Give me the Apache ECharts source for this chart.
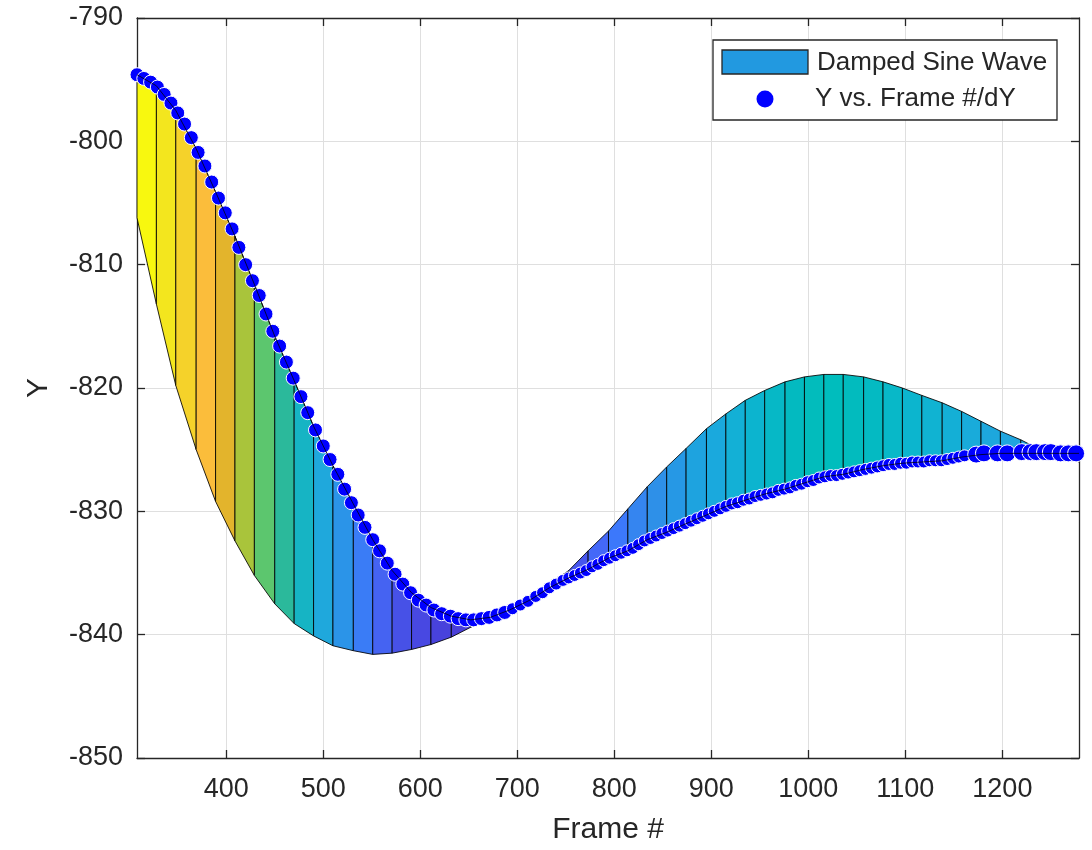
<!DOCTYPE html>
<html><head><meta charset="utf-8">
<script src="https://cdn.jsdelivr.net/npm/echarts@6/dist/echarts.min.js"></script>
<style>html,body{margin:0;padding:0;background:#fff}#c{width:1092px;height:850px}</style>
</head><body><div id="c"></div>
<script>
// Patch vertices (frame #) and the two bounding curves
const patchFrames = [308,328,348,369,389,409,429,450,470,490,510,531,551,571,591,611,632,652,672,692,713,733,753,773,794,814,834,854,874,895,915,935,955,976,996,1016,1036,1057,1077,1097,1117,1138,1158,1178,1198,1219,1239,1259,1279];
const curveY = [-794.6,-795.5,-797.5,-800.6,-804.1,-807.7,-811.6,-815.8,-819.4,-823.1,-826.3,-829.4,-832.3,-834.8,-836.6,-837.8,-838.5,-838.8,-838.6,-838.0,-837.2,-836.2,-835.4,-834.7,-833.8,-833.2,-832.3,-831.7,-831.0,-830.3,-829.6,-829.1,-828.6,-828.2,-827.7,-827.2,-827.0,-826.6,-826.3,-826.1,-826.0,-825.9,-825.6,-825.4,-825.3,-825.3,-825.3,-825.3,-825.3];
const sineY = [-806.2,-813.2,-819.8,-825.0,-829.2,-832.4,-835.2,-837.5,-839.1,-840.1,-840.9,-841.3,-841.6,-841.5,-841.2,-840.8,-840.2,-839.4,-838.6,-837.7,-836.8,-835.9,-834.8,-833.2,-831.6,-829.8,-828.0,-826.4,-824.9,-823.3,-822.1,-821.0,-820.2,-819.5,-819.1,-818.9,-818.9,-819.1,-819.5,-820.0,-820.6,-821.2,-821.9,-822.7,-823.5,-824.2,-825.0,-825.5,-826.0];
// Scatter points: Y vs. Frame #/dY
const dotFrames = [308,315,322,329,336,343,350,357,364,371,378,385,392,399,406,413,420,427,434,441,448,455,462,469,477,484,492,500,507,515,522,529,536,543,551,558,566,574,582,590,598,606,614,622,631,639,647,655,663,671,679,687,695,703,711,719,726,733,740,747,753,759,765,771,777,783,789,795,801,807,813,819,825,831,837,843,849,855,861,867,873,879,885,891,897,903,909,915,921,927,933,939,945,951,957,963,969,975,981,987,993,999,1005,1011,1017,1023,1029,1035,1041,1047,1053,1059,1065,1071,1077,1083,1089,1095,1101,1107,1113,1119,1125,1131,1137,1143,1149,1155,1161,1173,1181,1195,1205,1220,1229,1235,1244,1250,1260,1268,1276];
const dotY = [-794.6,-794.9,-795.2,-795.6,-796.2,-796.9,-797.7,-798.6,-799.7,-800.9,-802.0,-803.3,-804.6,-805.8,-807.1,-808.6,-810.0,-811.3,-812.5,-814.0,-815.4,-816.6,-817.9,-819.2,-820.7,-822.0,-823.4,-824.7,-825.8,-827.0,-828.2,-829.3,-830.3,-831.3,-832.3,-833.2,-834.2,-835.1,-835.9,-836.6,-837.2,-837.6,-838.0,-838.3,-838.5,-838.7,-838.8,-838.8,-838.7,-838.6,-838.4,-838.2,-837.9,-837.6,-837.3,-836.9,-836.6,-836.2,-835.9,-835.6,-835.4,-835.2,-835.0,-834.8,-834.5,-834.3,-834.0,-833.8,-833.6,-833.4,-833.2,-833.0,-832.7,-832.4,-832.2,-832.0,-831.8,-831.6,-831.4,-831.2,-831.0,-830.8,-830.6,-830.4,-830.2,-830.0,-829.8,-829.6,-829.4,-829.3,-829.1,-829.0,-828.8,-828.7,-828.6,-828.5,-828.3,-828.2,-828.1,-827.9,-827.8,-827.6,-827.5,-827.3,-827.2,-827.1,-827.1,-827.0,-826.9,-826.8,-826.7,-826.6,-826.5,-826.4,-826.3,-826.2,-826.2,-826.1,-826.1,-826.0,-826.0,-826.0,-825.9,-825.9,-825.9,-825.8,-825.7,-825.6,-825.5,-825.4,-825.3,-825.3,-825.3,-825.2,-825.2,-825.2,-825.2,-825.2,-825.3,-825.3,-825.3];
const xTicks = [400,500,600,700,800,900,1000,1100,1200];
const xMin = 308, xMax = 1279, yMin = -850, yMax = -790, yStep = 10;
const seriesNames = ['Damped Sine Wave', 'Y vs. Frame #/dY'];
const xName = 'Frame #', yName = 'Y';

// Face colours of the patch segments (style)
const segColors = ['#f8f80f','#f3e61e','#f5d22a','#fbbd3b','#e3b42c','#a9c43b','#5cc66e','#2bb99b','#16b4c4','#1fa8dc','#2b94e8','#3a7cf6','#4563f2','#4751e7','#4848e2','#4842dc','#4a3fd8','#4a40d8','#4a42dc','#4a44de','#4a46e0','#4a48e4','#4756ee','#4468f8','#3c78fb','#3585f0','#2e90e8','#2698e5','#1ea3df','#1aa9dd','#13b0d6','#0cb4cf','#06b8c6','#03bac0','#02bcbc','#00bdbd','#02bbbe','#04bac2','#08b8c8','#0cb5ce','#10b3d2','#14afd6','#19abda','#1da7dd','#20a5df','#22a2e0','#2a98e4','#2e90e8'];

const segData = [];
for (let k = 0; k < patchFrames.length - 1; k++) {
  segData.push([patchFrames[k], patchFrames[k+1], curveY[k], curveY[k+1], sineY[k], sineY[k+1]]);
}
const dots = dotFrames.map((f, i) => [f, dotY[i]]);
const curveLine = patchFrames.map((f, i) => [f, curveY[i]]);

const FONT = '"Liberation Sans", Arial, Helvetica, sans-serif';
const TXT = '#262626';
const chart = echarts.init(document.getElementById('c'), null, {renderer: 'canvas'});
const axisCommon = {
  axisLine: {show: true, onZero: false, lineStyle: {color: TXT, width: 1.3}},
  axisTick: {show: true, inside: true, length: 8, lineStyle: {color: TXT, width: 1.3}},
};
const tickFmt = v => String(v);
chart.setOption({
  animation: false,
  backgroundColor: '#fff',
  grid: {left: 137, right: 13, top: 18, bottom: 90, containLabel: false},
  xAxis: [{
    type: 'value', min: xMin, max: xMax, position: 'bottom',
    name: xName, nameLocation: 'middle', nameGap: 57,
    nameTextStyle: {color: TXT, fontSize: 30, fontFamily: FONT},
    ...axisCommon,
    axisTick: {show: true, inside: true, length: 8, customValues: xTicks, lineStyle: {color: TXT, width: 1.3}},
    axisLabel: {customValues: xTicks, formatter: tickFmt, color: TXT, fontSize: 27, fontFamily: FONT, margin: 18},
    splitLine: {show: true, lineStyle: {color: '#dfdfdf', width: 1}}
  }, {
    type: 'value', min: xMin, max: xMax, position: 'top',
    ...axisCommon,
    axisTick: {show: true, inside: true, length: 8, customValues: xTicks, lineStyle: {color: TXT, width: 1.3}},
    axisLabel: {show: false}, splitLine: {show: false}
  }],
  yAxis: [{
    type: 'value', min: yMin, max: yMax, interval: yStep, position: 'left',
    name: yName, nameLocation: 'middle', nameGap: 83, nameRotate: 90,
    nameTextStyle: {color: TXT, fontSize: 30, fontFamily: FONT},
    ...axisCommon,
    axisLabel: {formatter: tickFmt, color: TXT, fontSize: 27, fontFamily: FONT, margin: 14},
    splitLine: {show: true, lineStyle: {color: '#dfdfdf', width: 1}}
  }, {
    type: 'value', min: yMin, max: yMax, interval: yStep, position: 'right',
    ...axisCommon,
    axisLabel: {show: false}, splitLine: {show: false}
  }],
  series: [{
    name: seriesNames[0], type: 'custom', xAxisIndex: 0, yAxisIndex: 0, z: 2,
    data: segData, encode: {x: [0, 1], y: [2, 3, 4, 5]},
    renderItem: function (params, api) {
      const p1 = api.coord([api.value(0), api.value(2)]);
      const p2 = api.coord([api.value(1), api.value(3)]);
      const p3 = api.coord([api.value(1), api.value(5)]);
      const p4 = api.coord([api.value(0), api.value(4)]);
      return {type: 'polygon', shape: {points: [p1, p2, p3, p4]},
        style: {fill: segColors[params.dataIndex], stroke: 'rgba(0,0,0,0.85)', lineWidth: 1}};
    }
  }, {
    name: seriesNames[1], type: 'scatter', z: 3, clip: false,
    data: dots,
    symbolSize: function (v) { return v[0] > 1165 ? 17 : (v[0] > 690 ? 12 : 14); },
    itemStyle: {color: '#0000ff', borderColor: '#ffffff', borderWidth: 1, opacity: 1}
  }, {
    name: 'edge', type: 'line', z: 4, silent: true, data: curveLine, showSymbol: false, symbol: 'none',
    lineStyle: {color: 'rgba(0,0,0,0.75)', width: 1}
  }],
  graphic: [
    {type: 'rect', z: 100, shape: {x: 713, y: 40, width: 344, height: 80}, style: {fill: '#fff', stroke: TXT, lineWidth: 1.3}},
    {type: 'rect', z: 101, shape: {x: 722, y: 50, width: 86, height: 24}, style: {fill: '#2299e0', stroke: TXT, lineWidth: 1.3}},
    {type: 'text', z: 101, x: 817, y: 63, style: {text: seriesNames[0], fill: TXT, font: '26px ' + FONT, textVerticalAlign: 'middle', textAlign: 'left'}},
    {type: 'circle', z: 101, shape: {cx: 765, cy: 99, r: 8.5}, style: {fill: '#0000ff'}},
    {type: 'text', z: 101, x: 815, y: 99, style: {text: seriesNames[1], fill: TXT, font: '26px ' + FONT, textVerticalAlign: 'middle', textAlign: 'left'}}
  ]
});
</script></body></html>
